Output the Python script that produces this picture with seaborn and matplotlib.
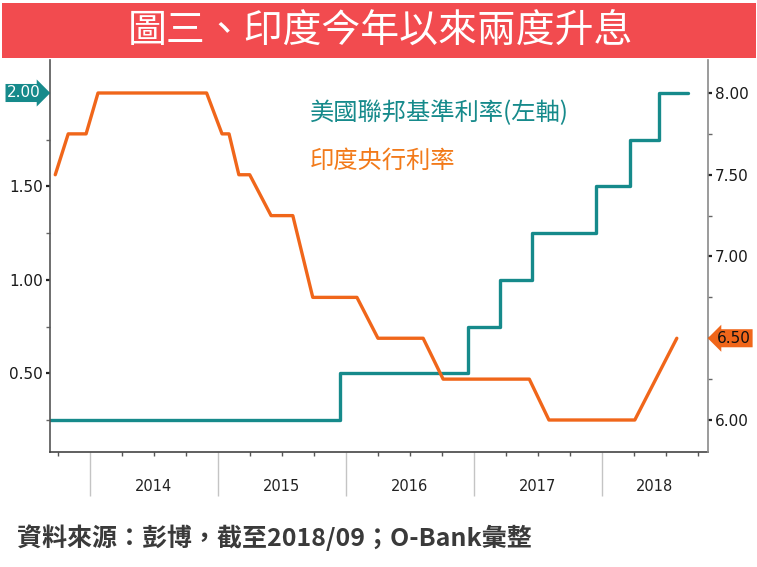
import pandas as pd
import numpy as np
import matplotlib
matplotlib.use('Agg')
import matplotlib.pyplot as plt
import matplotlib.dates as mdates
from matplotlib.patches import Rectangle
import seaborn as sns

# --- data ---
# US Fed funds target rate (upper bound), dates of change, left axis
fed_dates = ['2013-09-01', '2015-12-16', '2016-12-14', '2017-03-15', '2017-06-14',
             '2017-12-13', '2018-03-21', '2018-06-13', '2018-09-03']
fed_rate = [0.25, 0.50, 0.75, 1.00, 1.25, 1.50, 1.75, 2.00, 2.00]

# RBI repo rate, vertices of the plotted line, right axis
india_dates = ['2013-09-23', '2013-10-30', '2013-12-20', '2014-01-23', '2014-11-29',
               '2015-01-12', '2015-02-01', '2015-03-01', '2015-04-01', '2015-06-01',
               '2015-08-02', '2015-09-28', '2016-02-01', '2016-04-01', '2016-08-08',
               '2016-10-04', '2017-06-07', '2017-08-02', '2018-04-04', '2018-08-02']
india_rate = [7.50, 7.75, 7.75, 8.00, 8.00,
              7.75, 7.75, 7.50, 7.50, 7.25,
              7.25, 6.75, 6.75, 6.50, 6.50,
              6.25, 6.25, 6.00, 6.00, 6.50]

years = ['2014', '2015', '2016', '2017', '2018']
year_label_dates = ['2014-07-01', '2015-07-01', '2016-07-01', '2017-07-01', '2018-05-31']

left_ticks = [0.50, 1.00, 1.50, 2.00]
right_ticks = [6.00, 6.50, 7.00, 7.50, 8.00]

title = '圖三、印度今年以來兩度升息'
fed_label = '美國聯邦基準利率(左軸)'
india_label = '印度央行利率'
source = '資料來源：彭博，截至2018/09；O-Bank彙整'

TEAL = '#168A8B'
ORANGE = '#F0661A'
RED = '#F24B4F'

sns.set_style('white')
plt.rcParams['font.family'] = ['Noto Sans CJK TC', 'DejaVu Sans']

fed = pd.DataFrame({'date': pd.to_datetime(fed_dates), 'rate': fed_rate})
india = pd.DataFrame({'date': pd.to_datetime(india_dates), 'rate': india_rate})

fig = plt.figure(figsize=(7.57, 5.67), dpi=100)
ax = fig.add_axes([50 / 757, 1 - 452 / 567, 658 / 757, 392 / 567])
ax2 = ax.twinx()

sns.lineplot(data=fed, x='date', y='rate', ax=ax, color=TEAL, lw=2.4,
             drawstyle='steps-post')
sns.lineplot(data=india, x='date', y='rate', ax=ax2, color=ORANGE, lw=2.4)

ax.set_xlim(pd.Timestamp('2013-09-08'), pd.Timestamp('2018-10-30'))
ax.set_ylim(0.0788, 2.1766)
ax2.set_ylim(5.8043, 8.2018)
for a in (ax, ax2):
    a.set_xlabel('')
    a.set_ylabel('')

# spines
for a in (ax, ax2):
    a.spines['top'].set_visible(False)
ax.spines['left'].set_color('#555555')
ax.spines['bottom'].set_color('#444444')
ax2.spines['right'].set_color('#8a8a8a')
ax.spines['right'].set_visible(False)
ax2.spines['left'].set_visible(False)
ax2.spines['bottom'].set_visible(False)
for s in ('left', 'bottom'):
    ax.spines[s].set_linewidth(1.2)
ax2.spines['right'].set_linewidth(1.2)

# y ticks
ax.set_yticks(left_ticks)
ax.set_yticklabels([f'{v:.2f}' if v != 2.00 else '' for v in left_ticks],
                   family='DejaVu Sans')
ax.set_yticks([0.25, 0.75, 1.25, 1.75], minor=True)
ax.tick_params(axis='y', which='major', length=3, width=1.6, color='#222222',
               pad=2, labelsize=11, labelcolor='#1a1a1a')
ax.tick_params(axis='y', which='minor', length=3, width=1, color='#666666', left=True)

ax2.set_yticks(right_ticks)
ax2.set_yticklabels([f'{v:.2f}' if v != 6.50 else '' for v in right_ticks],
                    family='DejaVu Sans')
ax2.set_yticks([6.25, 6.75, 7.25, 7.75], minor=True)
ax2.tick_params(axis='y', which='major', length=3, width=1.6, color='#222222',
                pad=2, labelsize=11, labelcolor='#1a1a1a')
ax2.tick_params(axis='y', which='minor', length=3, width=1, color='#666666', right=True)

# x ticks: long light separators at years, short ticks at quarters
ax.xaxis.set_major_locator(mdates.YearLocator())
ax.xaxis.set_minor_locator(mdates.MonthLocator(bymonth=[1, 4, 7, 10]))
ax.xaxis.set_major_formatter(plt.NullFormatter())
ax.tick_params(axis='x', which='major', length=32, width=1, color='#c4c4c4',
               bottom=True)
ax.tick_params(axis='x', which='minor', length=3, width=1, color='#555555',
               bottom=True)
for yr, d in zip(years, year_label_dates):
    ax.text(pd.Timestamp(d), -0.088, yr, transform=ax.get_xaxis_transform(),
            ha='center', va='center', fontsize=10.5, color='#222222',
            family='DejaVu Sans')

# last-value tags
ax.text(-0.014, 2.00, '2.00', transform=ax.get_yaxis_transform(), ha='right',
        va='center', fontsize=11, color='white', family='DejaVu Sans',
        bbox=dict(boxstyle='rarrow,pad=0.1', fc=TEAL, ec='none'))
ax2.text(1.014, 6.50, '6.50', transform=ax2.get_yaxis_transform(), ha='left',
         va='center', fontsize=11, color='#111111', family='DejaVu Sans',
         bbox=dict(boxstyle='larrow,pad=0.1', fc=ORANGE, ec='none'))

# legend as coloured text
fig.text(310 / 757, 1 - 113 / 567, fed_label, color=TEAL, fontsize=17.5,
         ha='left', va='center')
fig.text(310 / 757, 1 - 161 / 567, india_label, color='#F27A1A', fontsize=17.5,
         ha='left', va='center')

# title bar
fig.patches.append(Rectangle((2 / 757, 1 - 58 / 567), 754 / 757, 55 / 567,
                             transform=fig.transFigure, fc=RED, ec='none',
                             zorder=0))
fig.text(380 / 757, 1 - 31 / 567, title, color='white', fontsize=28,
         ha='center', va='center')

# source
fig.text(17 / 757, 1 - 538 / 567, source, color='#3a3a3a', fontsize=18,
         fontweight='bold', ha='left', va='center')

fig.savefig('out.png', dpi=100)
